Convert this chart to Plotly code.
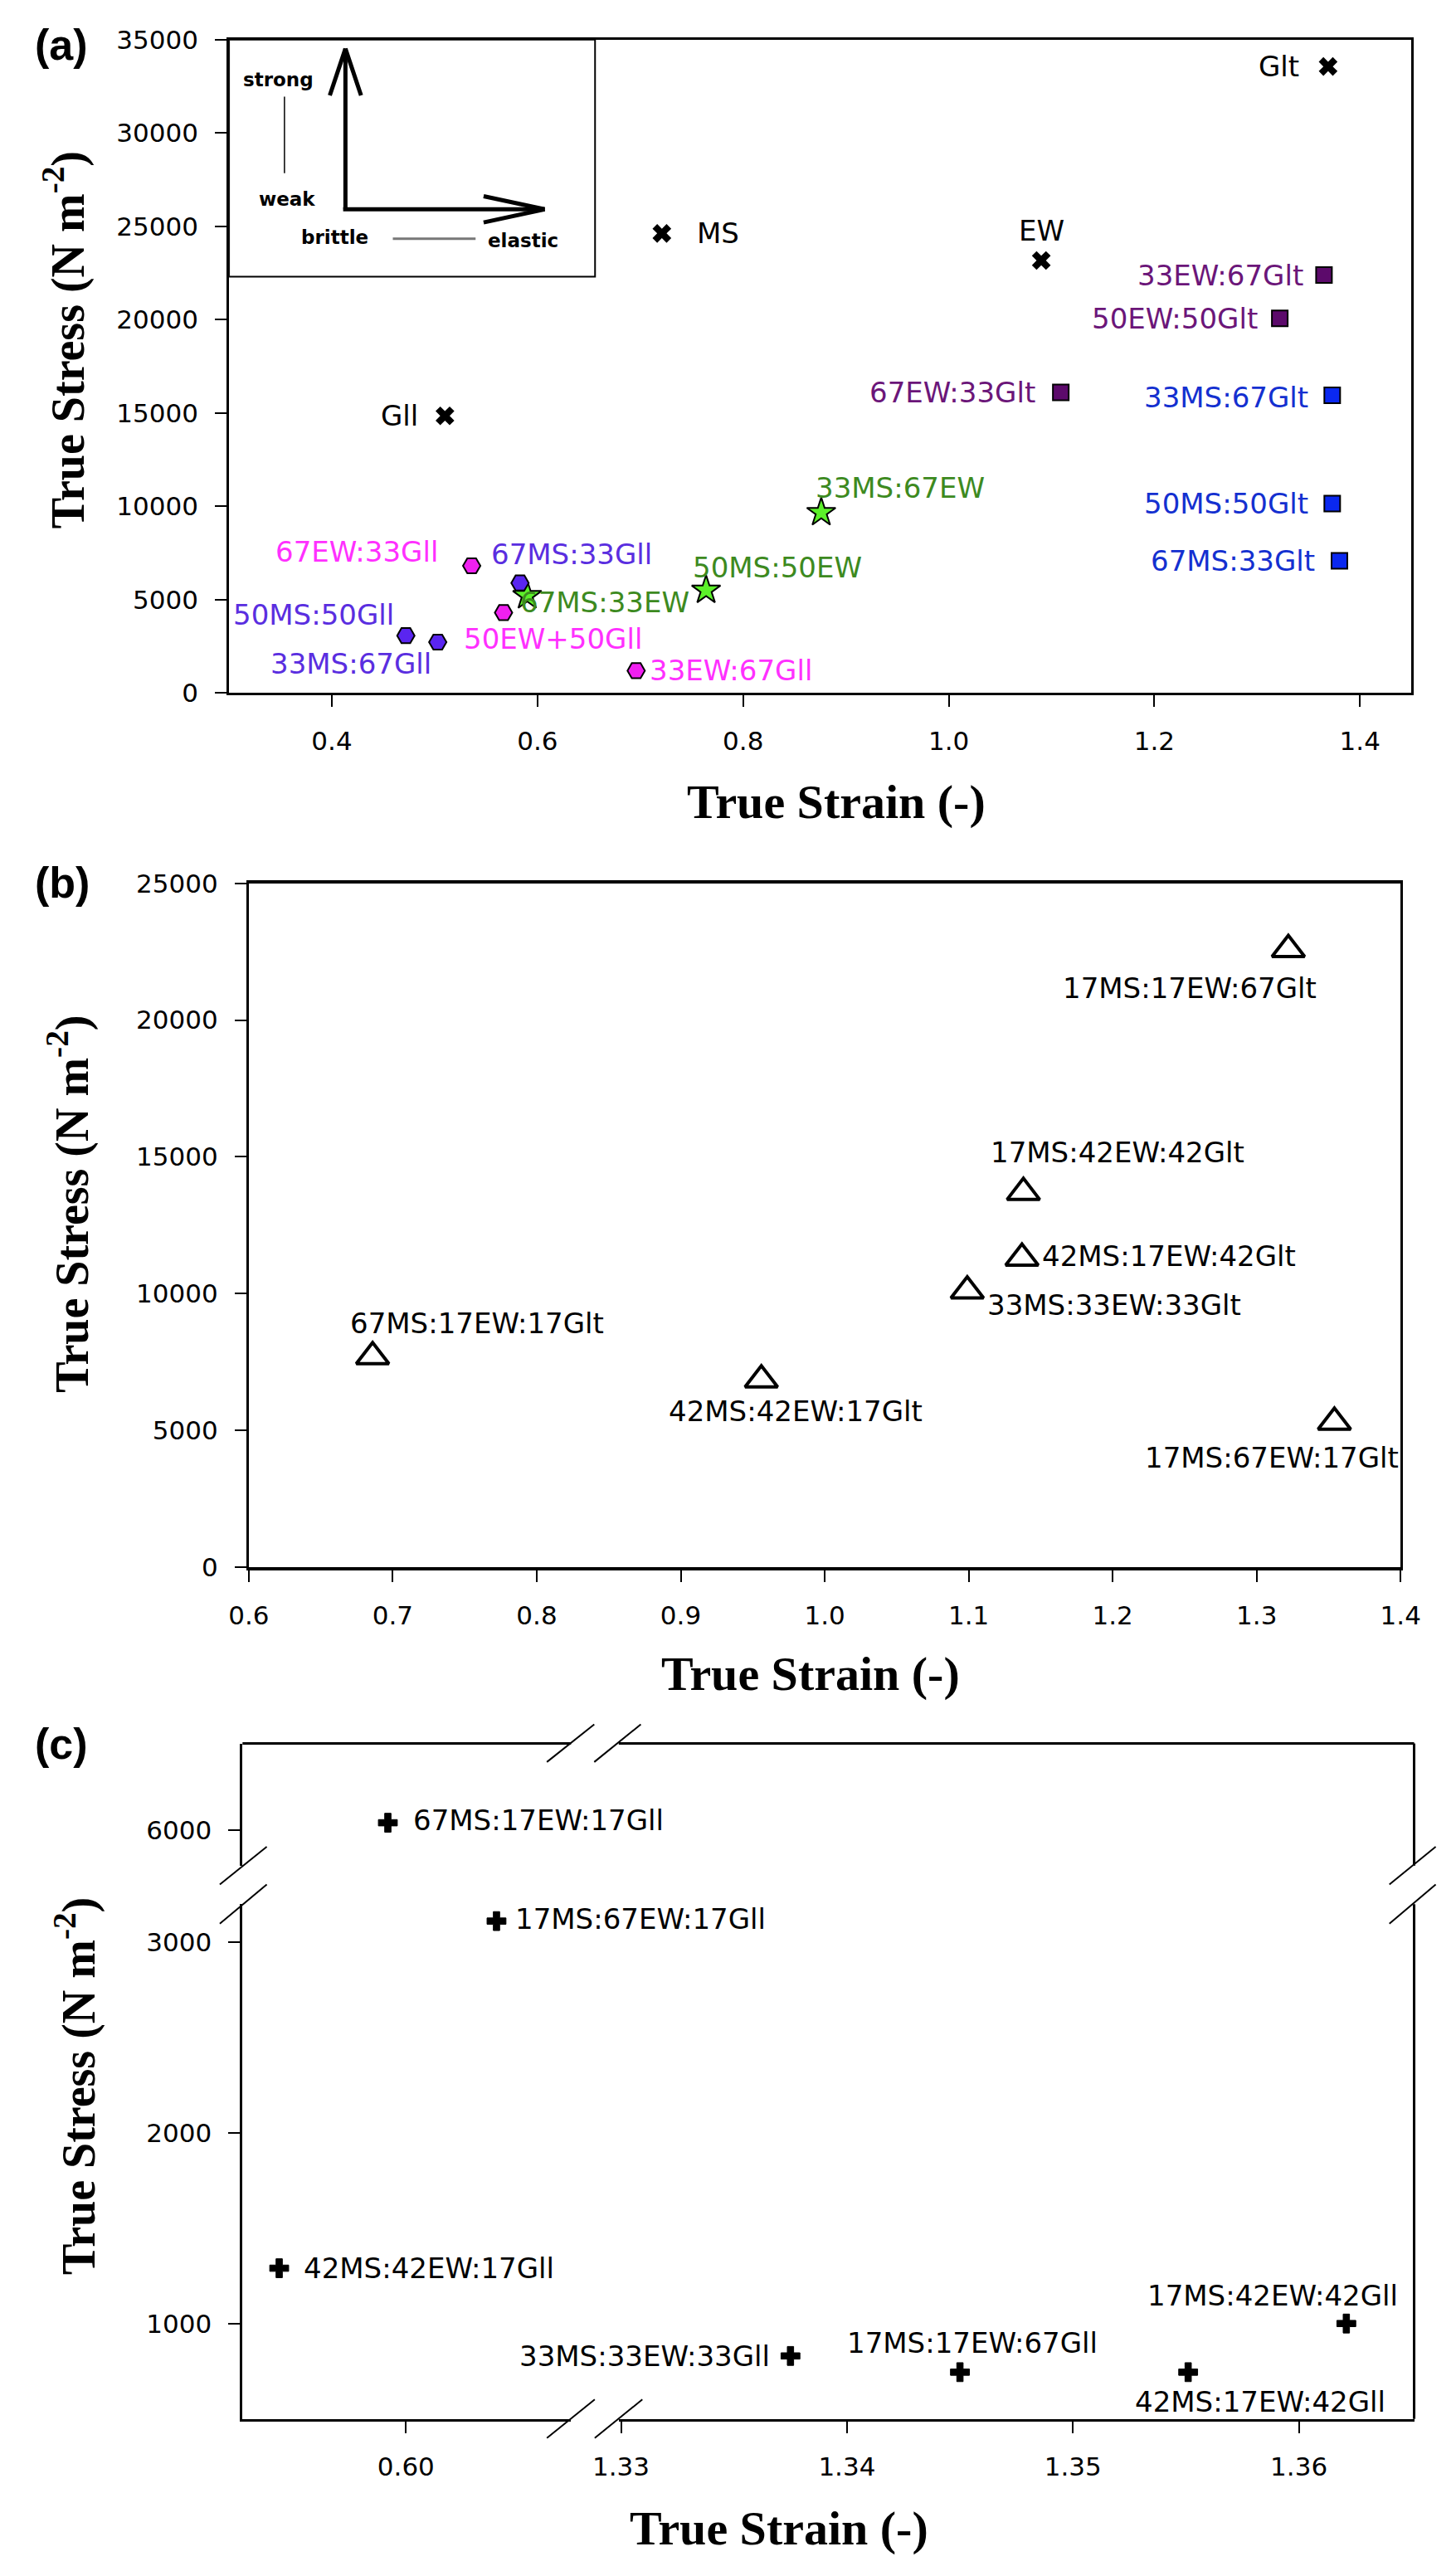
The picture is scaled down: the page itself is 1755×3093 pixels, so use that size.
import plotly.graph_objects as go

W, H = 1755, 3093
SANS = "DejaVu Sans"
SERIF = "Liberation Serif"

# ---------------- panel (a): single components and binary blends ----------------
pure_labels = ["MS", "EW", "Glt", "Gll"]
pure_strain = [0.721, 1.090, 1.369, 0.510]
pure_stress = [24620, 23170, 33560, 14850]

ew_glt_labels = ["33EW:67Glt", "50EW:50Glt", "67EW:33Glt"]
ew_glt_strain = [1.365, 1.322, 1.109]
ew_glt_stress = [22390, 20070, 16100]

ms_glt_labels = ["33MS:67Glt", "50MS:50Glt", "67MS:33Glt"]
ms_glt_strain = [1.373, 1.373, 1.380]
ms_glt_stress = [15950, 10150, 7080]

ms_ew_labels = ["33MS:67EW", "50MS:50EW", "67MS:33EW"]
ms_ew_strain = [0.876, 0.764, 0.590]
ms_ew_stress = [9670, 5510, 5220]

ew_gll_labels = ["67EW:33Gll", "50EW+50Gll", "33EW:67Gll"]
ew_gll_strain = [0.536, 0.567, 0.696]
ew_gll_stress = [6820, 4310, 1200]

ms_gll_labels = ["67MS:33Gll", "50MS:50Gll", "33MS:67Gll"]
ms_gll_strain = [0.583, 0.472, 0.503]
ms_gll_stress = [5900, 3080, 2730]

a_xticks = [0.4, 0.6, 0.8, 1.0, 1.2, 1.4]
a_yticks = [0, 5000, 10000, 15000, 20000, 25000, 30000, 35000]

# ---------------- panel (b): ternary blends with Glt ----------------
b_labels = ["67MS:17EW:17Glt", "42MS:42EW:17Glt", "33MS:33EW:33Glt", "42MS:17EW:42Glt",
            "17MS:42EW:42Glt", "17MS:67EW:17Glt", "17MS:17EW:67Glt"]
b_strain = [0.686, 0.956, 1.099, 1.137, 1.138, 1.354, 1.322]
b_stress = [7700, 6850, 10100, 11300, 13700, 5300, 22580]

b_xticks = [0.6, 0.7, 0.8, 0.9, 1.0, 1.1, 1.2, 1.3, 1.4]
b_yticks = [0, 5000, 10000, 15000, 20000, 25000]

# ---------------- panel (c): ternary blends with Gll (broken axes) ----------------
c_labels = ["67MS:17EW:17Gll", "17MS:67EW:17Gll", "42MS:42EW:17Gll", "33MS:33EW:33Gll",
            "17MS:17EW:67Gll", "42MS:17EW:42Gll", "17MS:42EW:42Gll"]
c_strain = [0.5992, 0.6040, 0.5944, 1.3375, 1.3450, 1.3551, 1.3621]
c_stress = [6040, 3110, 1290, 830, 745, 745, 1000]

c_xticks_left = [0.60]
c_xticks_right = [1.33, 1.34, 1.35, 1.36]
c_yticks_low = [1000, 2000, 3000]
c_yticks_high = [6000]


def px(x):
    return x / W


def py(y):
    return 1 - y / H


# label placement: xanchor, xshift, yshift (pixels)
offsets = {
    "Glt": ("right", -33, 0), "MS": ("left", 40, 0), "EW": ("center", 0, 36), "Gll": ("right", -30, 0),
    "33EW:67Glt": ("right", -23, 0), "50EW:50Glt": ("right", -25, 0), "67EW:33Glt": ("right", -29, 0),
    "33MS:67Glt": ("right", -27, -3), "50MS:50Glt": ("right", -27, 0), "67MS:33Glt": ("right", -27, 0),
    "33MS:67EW": ("left", -9, 30), "50MS:50EW": ("left", -18, 27), "67MS:33EW": ("left", -10, -8),
    "67EW:33Gll": ("right", -39, 17), "50EW+50Gll": ("left", -50, -32), "33EW:67Gll": ("left", 14, 0),
    "67MS:33Gll": ("left", -37, 35), "50MS:50Gll": ("right", -12, 25), "33MS:67Gll": ("right", -6, -26),
    "67MS:17EW:17Glt": ("left", -29, 40), "42MS:42EW:17Glt": ("left", -114, -38),
    "33MS:33EW:33Glt": ("left", 22, -17), "42MS:17EW:42Glt": ("left", 22, 2),
    "17MS:67EW:17Glt": ("right", 80, -43), "17MS:17EW:67Glt": ("right", 36, -46),
    "17MS:42EW:42Glt": ("left", -42, 48),
    "67MS:17EW:17Gll": ("left", 29, 3), "17MS:67EW:17Gll": ("left", 21, 3),
    "42MS:42EW:17Gll": ("left", 27, 0), "33MS:33EW:33Gll": ("right", -23, 0),
    "17MS:17EW:67Gll": ("center", 15, 35), "17MS:42EW:42Gll": ("right", 64, 34),
    "42MS:17EW:42Gll": ("left", -66, -36),
}

annotations = []
shapes = []


def add_labels(labels, xs, ys, xref, yref, color, size):
    for t, x, y in zip(labels, xs, ys):
        anchor, dx, dy = offsets[t]
        annotations.append(dict(text=t, x=x, y=y, xref=xref, yref=yref, showarrow=False,
                                xanchor=anchor, yanchor="middle", xshift=dx, yshift=dy,
                                font=dict(family=SANS, size=size, color=color)))


fig = go.Figure()

# panel (a) series
a_groups = [
    (pure_labels, pure_strain, pure_stress, dict(symbol="x", size=20, color="black"), "black"),
    (ew_glt_labels, ew_glt_strain, ew_glt_stress,
     dict(symbol="square", size=19, color="#5c0a6b", line=dict(color="black", width=2)), "#6b1679"),
    (ms_glt_labels, ms_glt_strain, ms_glt_stress,
     dict(symbol="square", size=19, color="#0a28f0", line=dict(color="black", width=2)), "#1430d0"),
    (ms_ew_labels, ms_ew_strain, ms_ew_stress,
     dict(symbol="star", size=26, color="#5cf02a", line=dict(color="black", width=2)), "#3d8a1f"),
    (ew_gll_labels, ew_gll_strain, ew_gll_stress,
     dict(symbol="hexagon2", size=21, color="#f020f0", line=dict(color="black", width=2)), "#ff30ff"),
    (ms_gll_labels, ms_gll_strain, ms_gll_stress,
     dict(symbol="hexagon2", size=21, color="#5a25f0", line=dict(color="black", width=2)), "#5a2ee0"),
]
for labels, xs, ys, marker, tcolor in a_groups:
    fig.add_trace(go.Scatter(x=xs, y=ys, mode="markers", marker=marker, xaxis="x", yaxis="y"))
    add_labels(labels, xs, ys, "x", "y", tcolor, 34)

# panel (b)
fig.add_trace(go.Scatter(x=b_strain, y=b_stress, mode="markers", xaxis="x2", yaxis="y2",
                         marker=dict(symbol="triangle-up-open", size=34, color="black",
                                     line=dict(color="black", width=4))))
add_labels(b_labels, b_strain, b_stress, "x2", "y2", "black", 34)

# panel (c): split points onto the broken axis segments
segs = {}
for t, x, y in zip(c_labels, c_strain, c_stress):
    xa = "x3" if x < 1 else "x4"
    ya = "y4" if y > 4000 else "y3"
    segs.setdefault((xa, ya), []).append((t, x, y))
for (xa, ya), pts in segs.items():
    fig.add_trace(go.Scatter(x=[p[1] for p in pts], y=[p[2] for p in pts], mode="markers",
                             xaxis=xa, yaxis=ya,
                             marker=dict(symbol="cross", size=19, color="black",
                                         line=dict(color="black", width=1))))
    add_labels([p[0] for p in pts], [p[1] for p in pts], [p[2] for p in pts], xa, ya, "black", 34)

# inset in panel (a)
shapes.append(dict(type="rect", xref="x", yref="y", x0=0.3, x1=0.656, y0=22300, y1=35000,
                   line=dict(color="black", width=2)))
arrow = dict(color="black", width=5)
for x0, y0, x1, y1 in [(0.4132, 25912, 0.4132, 34517), (0.4132, 34517, 0.3980, 32015),
                       (0.4132, 34517, 0.4284, 32015), (0.4110, 25912, 0.6070, 25912),
                       (0.6070, 25912, 0.5476, 26614), (0.6070, 25912, 0.5476, 25210)]:
    shapes.append(dict(type="line", xref="x", yref="y", x0=x0, y0=y0, x1=x1, y1=y1, line=arrow))
shapes.append(dict(type="line", xref="x", yref="y", x0=0.3539, x1=0.3539, y0=27844, y1=31940,
                   line=dict(color="black", width=1.5)))
shapes.append(dict(type="line", xref="x", yref="y", x0=0.4593, x1=0.5398, y0=24333, y1=24333,
                   line=dict(color="#777777", width=3)))
for t, x, y in [("strong", 0.3477, 32849), ("weak", 0.3562, 26439),
                ("brittle", 0.4031, 24420), ("elastic", 0.5859, 24245)]:
    annotations.append(dict(text="<b>%s</b>" % t, x=x, y=y, xref="x", yref="y", showarrow=False,
                            font=dict(family=SANS, size=23, color="black")))

# panel (c) frame pieces and break marks
frame = dict(color="black", width=3)
for x0, y0, x1, y1 in [(260.8, 2100, 670, 2100), (729.5, 2100, 1720.4, 2100),
                       (1720.4, 2100, 1720.4, 2249), (1720.4, 2296, 1720.4, 2923.7)]:
    shapes.append(dict(type="line", xref="paper", yref="paper", x0=px(x0), y0=py(y0),
                       x1=px(x1), y1=py(y1), line=frame))
slash = dict(color="black", width=2)
for x0, y0, x1, y1 in [(232.5, 2272, 291, 2226), (232.5, 2319.7, 291, 2272),
                       (1689.6, 2272, 1747.3, 2226), (1689.6, 2319.7, 1747.3, 2272),
                       (640, 2122.6, 699, 2076.7), (699, 2122.6, 757, 2076.7),
                       (640, 2947, 699.6, 2900), (699.6, 2947, 758.9, 2900)]:
    shapes.append(dict(type="line", xref="paper", yref="paper", x0=px(x0), y0=py(y0),
                       x1=px(x1), y1=py(y1), line=slash))

# titles and panel letters
ytitle = "<b>True Stress (N m<sup>-2</sup>)</b>"
xtitle = "<b>True Strain (-)</b>"
for xc, yc in [(40, 388), (45, 1442), (53, 2518)]:
    annotations.append(dict(text=ytitle, x=px(xc), y=py(yc), xref="paper", yref="paper",
                            showarrow=False, textangle=-90, xanchor="center", yanchor="middle",
                            font=dict(family=SERIF, size=56, color="black")))
for xc, yc in [(1000, 952), (968, 2015), (929, 3057)]:
    annotations.append(dict(text=xtitle, x=px(xc), y=py(yc), xref="paper", yref="paper",
                            showarrow=False, xanchor="center", yanchor="middle",
                            font=dict(family=SERIF, size=58, color="black")))
for t, yc in [("(a)", 28), ("(b)", 1050), ("(c)", 2100)]:
    annotations.append(dict(text="<b>%s</b>" % t, x=0, y=py(yc), xref="paper", yref="paper",
                            showarrow=False, xanchor="left", yanchor="middle",
                            font=dict(family="Liberation Sans", size=52, color="black")))

tickfont = dict(family=SANS, size=31, color="black")
base = dict(showline=True, linecolor="black", linewidth=3, ticks="outside", ticklen=14,
            tickwidth=2, tickcolor="black", showgrid=False, zeroline=False, tickfont=tickfont,
            ticklabelstandoff=14)

fig.update_layout(
    width=W, height=H, margin=dict(l=0, r=0, t=0, b=0),
    paper_bgcolor="white", plot_bgcolor="white", showlegend=False,
    xaxis=dict(base, domain=[px(244), px(1717)], range=[0.3, 1.45], tickvals=a_xticks,
               tickformat=".1f", mirror=True, anchor="y"),
    yaxis=dict(base, domain=[py(819), py(22)], range=[0, 35000], tickvals=a_yticks,
               tickformat="d", mirror=True, anchor="x"),
    xaxis2=dict(base, domain=[px(268.6), px(1703.6)], range=[0.6, 1.4], tickvals=b_xticks,
                tickformat=".1f", mirror=True, anchor="y2", linewidth=4),
    yaxis2=dict(base, domain=[py(1885), py(1051)], range=[0, 25000], tickvals=b_yticks,
                tickformat="d", mirror=True, anchor="x2"),
    xaxis3=dict(base, domain=[px(260.8), px(670)], range=[0.59278, 0.60729],
                tickvals=c_xticks_left, tickformat=".2f", anchor="y3"),
    xaxis4=dict(base, domain=[px(729.5), px(1720.4)], range=[1.3299, 1.3651],
                tickvals=c_xticks_right, tickformat=".2f", anchor="y3"),
    yaxis3=dict(base, domain=[py(2923.7), py(2296)], range=[500, 3198.6],
                tickvals=c_yticks_low, tickformat="d", anchor="x3"),
    yaxis4=dict(base, domain=[py(2249), py(2100)], range=[5815, 6455.6],
                tickvals=c_yticks_high, tickformat="d", anchor="x3"),
    annotations=annotations,
    shapes=shapes,
)

fig.write_html("out.html")
